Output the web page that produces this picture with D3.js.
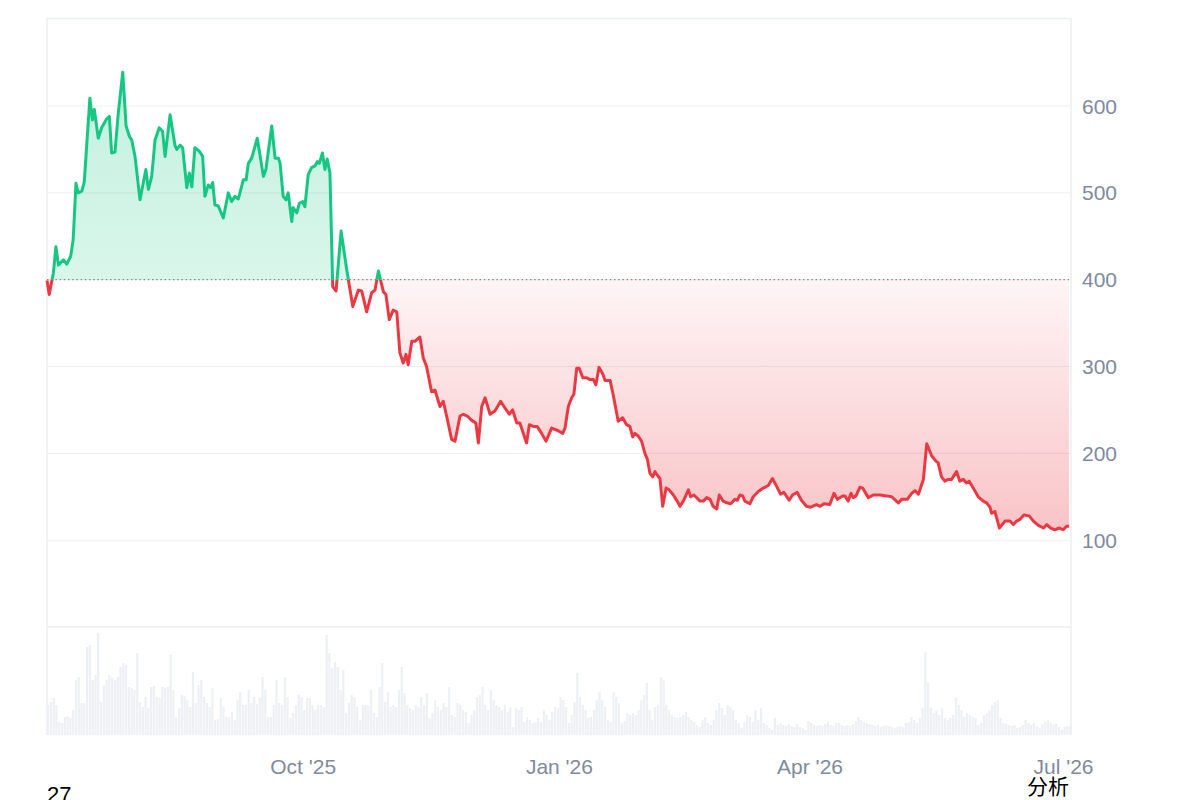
<!DOCTYPE html>
<html><head><meta charset="utf-8">
<script src="https://cdn.jsdelivr.net/npm/d3@7"></script>
<style>
body{margin:0;background:#fff;}
svg{display:block;font-family:"Liberation Sans",Arial,Helvetica,sans-serif;}
</style>
</head><body>
<svg id="chart" width="1200" height="800"></svg>
<script>
// ---------- data ----------
const startDateStr = "2025-07-01";
const domainDays = 367.7;
const baselinePrice = 400;

const dayOffsets = [0,0.8,2.3,3.2,4.1,5.9,7.1,8.5,9.4,10.4,
11.2,12.5,13.4,14.3,15.4,16.3,17.0,18.4,19.6,21.4,
22.4,23.2,24.4,25.6,27.2,28.4,29.6,30.4,31.6,33.4,
35.5,36.4,37.6,38.8,40.3,41.5,42.4,44.2,46.0,46.6,
47.8,48.7,50.2,51.1,52.0,53.1,54.7,55.9,56.7,57.9,
58.8,59.5,60.3,61.5,63.3,65.1,66.3,67.5,68.7,70.5,
71.5,72.3,73.5,75.5,77.7,78.6,80.7,81.9,83.1,83.7,
84.8,85.8,86.6,87.9,88.4,89.7,90.6,91.8,92.6,93.8,
95.0,96.2,97.1,97.8,98.9,99.8,100.6,101.6,102.6,103.8,
105.6,107.6,109.8,111.8,113.0,114.8,116.6,117.8,119.0,120.8,
121.7,122.9,124.3,125.6,126.7,127.9,128.9,129.7,131.0,132.1,
133.9,135.1,136.3,138.1,139.3,141.1,142.3,143.5,145.3,146.5,
148.3,149.5,150.9,152.5,154.0,154.9,156.1,157.3,159.1,160.9,
162.9,164.5,166.0,167.2,168.7,169.8,172.2,173.2,174.6,176.0,
177.6,179.2,181.2,183.6,185.2,186.0,187.2,188.4,189.2,190.2,
191.1,192.4,193.8,195.0,196.2,197.1,198.2,199.5,200.4,202.2,
203.4,205.1,206.7,208.1,209.3,210.3,211.1,212.3,213.5,214.7,
215.6,216.5,217.5,218.3,219.1,220.1,221.1,222.3,223.4,224.9,
226.3,227.3,228.5,230.3,231.1,232.3,234.5,235.7,236.9,238.1,
239.2,240.5,241.4,242.8,244.1,245.5,247.0,247.9,248.8,249.8,
250.6,252.4,253.6,255.4,257.2,259.0,260.5,262.0,263.4,264.6,
266.5,267.7,269.4,270.9,272.7,274.2,276.3,277.6,279.0,281.1,
282.6,283.8,285.7,286.5,287.7,288.7,289.5,290.5,291.9,292.9,
294.9,296.7,299.1,301.5,303.3,305.7,306.9,308.9,310.5,311.7,
312.9,314.7,315.9,317.7,319.2,320.0,321.2,322.4,323.6,324.8,
326.6,327.8,329.0,330.2,331.1,332.6,334.4,336.2,337.4,338.6,
339.2,340.4,342.0,344.0,345.8,347.0,348.2,349.4,350.8,352.7,
354.2,356.0,357.8,359.0,360.4,361.9,363.5,364.9,366.1,367.0];

const prices = [399,383,408,438,417,423,418,427,446,511,
500,502,513,557,609,584,596,563,575,585,
588,546,547,592,639,577,565,561,542,492,
527,504,519,561,575,571,542,590,554,550,
555,552,506,523,507,552,548,542,496,509,
506,512,486,485,471,500,490,496,493,515,
515,534,540,563,519,527,577,540,540,534,
496,492,500,467,483,477,488,490,484,521,
529,531,536,534,546,527,539,523,392,387,
456,412,369,388,387,363,385,388,410,386,
383,354,365,363,316,304,314,302,329,329,
334,310,300,271,273,254,260,243,216,214,
243,245,243,238,235,212,254,264,245,249,
260,252,245,250,235,235,212,233,231,231,
223,214,229,226,223,229,254,264,268,298,
298,287,287,285,285,279,299,292,284,284,
266,237,241,233,231,219,223,220,214,200,
193,177,173,179,175,171,139,160,158,152,
145,139,145,158,150,152,145,145,149,147,
139,136,152,145,143,142,147,146,152,151,
145,142,150,156,160,163,171,162,153,155,
146,152,155,146,139,138,141,139,142,141,
154,147,151,151,145,154,149,151,161,160,
149,152,152,151,150,143,147,147,154,157,
153,170,211,197,191,189,173,168,170,170,
179,168,170,166,168,160,150,145,143,138,
131,133,114,122,122,118,122,124,129,128,
122,117,114,118,114,112,114,112,116,116];

const volumes = [30,33,37,30,13,12,18,19,17,25,
55,58,32,32,88,90,55,60,102,33,
50,55,60,57,55,58,68,72,70,48,
47,45,82,33,28,38,27,48,49,38,
37,48,47,48,80,45,18,27,40,39,
35,28,63,32,50,55,38,32,28,47,
15,16,37,28,18,18,23,15,35,43,
30,30,45,32,38,31,37,58,45,18,
18,30,55,32,30,58,38,17,22,30,
40,38,25,37,37,30,25,30,30,28,
100,82,67,73,68,45,65,22,32,40,
38,28,15,30,30,30,45,22,18,48,
72,33,43,28,30,28,45,68,42,30,
27,25,30,28,38,30,42,17,22,35,
28,25,32,28,48,20,18,32,30,25,
23,12,20,25,38,40,48,30,25,45,
35,30,28,25,30,23,28,8,27,25,
28,13,18,15,12,13,17,13,25,20,
15,23,28,27,38,35,28,12,20,33,
62,38,30,25,17,18,25,35,43,35,
28,15,13,43,38,32,12,14,22,20,
22,20,25,35,40,52,25,15,28,30,
58,55,30,25,20,18,17,18,20,23,
18,15,13,10,8,15,18,12,10,15,
25,32,27,20,30,28,25,15,12,7,
13,20,18,13,25,15,27,12,10,7,
5,17,10,12,10,9,11,9,8,11,
8,7,5,14,12,10,9,10,9,11,
13,10,9,12,12,10,9,10,9,11,
14,18,15,13,12,11,10,9,10,8,
9,10,9,8,7,8,9,8,12,13,
18,15,12,17,27,83,52,27,22,25,
20,27,17,15,17,20,37,30,25,18,
22,20,18,17,10,12,20,22,25,30,
33,35,17,12,11,10,9,10,7,8,
10,15,12,10,12,9,7,11,13,14,
12,10,11,8,6,8,9,8];

const priceTicks = [100,200,300,400,500,600];
const xTickDates = ["2025-10-01","2026-01-01","2026-04-01","2026-07-01"];
const footLeft = "27";
const footRight = "分析";

// ---------- layout ----------
const L = 47, R = 1071, TOP = 18, PRICE_BOTTOM = 627, VOL_BOTTOM = 735;
const GREEN = "#16c784", RED = "#ea3943", GRID = "#eceef1", TXT = "#808a9d";

const parse = d3.timeParse("%Y-%m-%d");
const start = parse(startDateStr);
const toDate = d => new Date(start.getTime() + d * 864e5);
const end = toDate(domainDays);

const x = d3.scaleTime().domain([start, end]).range([L, R]);
const y = d3.scaleLinear().domain([0, 701.4]).range([PRICE_BOTTOM, TOP]);
const yv = d3.scaleLinear().domain([0, 105]).range([VOL_BOTTOM, VOL_BOTTOM - 105]);

const data = dayOffsets.map((d, i) => ({date: toDate(d), price: prices[i]}));
const volData = volumes.map((v, i) => ({date: d3.timeDay.offset(start, i), v}));

const svg = d3.select("#chart");
const defs = svg.append("defs");
const yb = y(baselinePrice);

// gradients
const gG = defs.append("linearGradient").attr("id", "gGreen")
  .attr("gradientUnits", "userSpaceOnUse").attr("x1", 0).attr("x2", 0)
  .attr("y1", y(d3.max(prices))).attr("y2", yb);
gG.append("stop").attr("offset", 0).attr("stop-color", GREEN).attr("stop-opacity", 0.26);
gG.append("stop").attr("offset", 1).attr("stop-color", GREEN).attr("stop-opacity", 0.16);
const gR = defs.append("linearGradient").attr("id", "gRed")
  .attr("gradientUnits", "userSpaceOnUse").attr("x1", 0).attr("x2", 0)
  .attr("y1", yb).attr("y2", y(d3.min(prices)));
gR.append("stop").attr("offset", 0).attr("stop-color", RED).attr("stop-opacity", 0.05);
gR.append("stop").attr("offset", 1).attr("stop-color", RED).attr("stop-opacity", 0.3);

defs.append("clipPath").attr("id", "clipAbove").append("rect")
  .attr("x", L - 5).attr("y", 0).attr("width", R - L + 10).attr("height", yb);
defs.append("clipPath").attr("id", "clipBelow").append("rect")
  .attr("x", L - 5).attr("y", yb).attr("width", R - L + 10).attr("height", PRICE_BOTTOM - yb);

// grid
const grid = svg.append("g");
grid.selectAll("line.h").data(priceTicks).join("line")
  .attr("x1", L).attr("x2", R).attr("y1", d => y(d)).attr("y2", d => y(d))
  .attr("stroke", GRID).attr("stroke-width", 1);
grid.append("line").attr("x1", L).attr("x2", R).attr("y1", TOP + 0.5).attr("y2", TOP + 0.5).attr("stroke", GRID).attr("stroke-width", 1.5);
grid.append("line").attr("x1", L).attr("x2", R).attr("y1", PRICE_BOTTOM).attr("y2", PRICE_BOTTOM).attr("stroke", GRID).attr("stroke-width", 1.5);
grid.append("line").attr("x1", L).attr("x2", L).attr("y1", TOP).attr("y2", VOL_BOTTOM).attr("stroke", GRID).attr("stroke-width", 1.5);
grid.append("line").attr("x1", R).attr("x2", R).attr("y1", TOP).attr("y2", VOL_BOTTOM).attr("stroke", GRID).attr("stroke-width", 1.5);

// volume bars
const bw = (x(d3.timeDay.offset(start, 1)) - x(start)) * 0.8;
svg.append("g").selectAll("rect").data(volData).join("rect")
  .attr("x", d => x(d.date)).attr("width", bw)
  .attr("y", d => yv(d.v)).attr("height", d => VOL_BOTTOM - yv(d.v))
  .attr("fill", "#edf0f4");

// areas
const area = d3.area().x(d => x(d.date)).y0(yb).y1(d => y(d.price));
svg.append("path").datum(data).attr("d", area).attr("fill", "url(#gGreen)").attr("clip-path", "url(#clipAbove)");
svg.append("path").datum(data).attr("d", area).attr("fill", "url(#gRed)").attr("clip-path", "url(#clipBelow)");

// baseline
svg.append("line").attr("x1", L).attr("x2", R).attr("y1", yb).attr("y2", yb)
  .attr("stroke", "#8a8a8a").attr("stroke-width", 1.2).attr("stroke-dasharray", "1.5,2.7");

// lines
const line = d3.line().x(d => x(d.date)).y(d => y(d.price));
svg.append("path").datum(data).attr("d", line).attr("fill", "none").attr("stroke", GREEN)
  .attr("stroke-width", 3).attr("stroke-linejoin", "round").attr("clip-path", "url(#clipAbove)");
svg.append("path").datum(data).attr("d", line).attr("fill", "none").attr("stroke", RED)
  .attr("stroke-width", 3).attr("stroke-linejoin", "round").attr("clip-path", "url(#clipBelow)");

// y labels
svg.append("g").selectAll("text").data(priceTicks).join("text")
  .attr("x", 1082).attr("y", d => y(d)).attr("dy", "0.36em")
  .attr("fill", TXT).attr("font-size", 21).text(d => d);

// x labels
const fmt = d3.timeFormat("%b '%y");
svg.append("g").selectAll("text").data(xTickDates).join("text")
  .attr("x", d => x(parse(d))).attr("y", 774).attr("text-anchor", "middle")
  .attr("fill", TXT).attr("font-size", 21).text(d => fmt(parse(d)));

// footer texts
svg.append("text").attr("x", 47).attr("y", 802).attr("fill", "#000").attr("font-size", 22).text(footLeft);
svg.append("text").attr("x", 1069).attr("y", 794).attr("text-anchor", "end").attr("fill", "#000")
  .attr("font-size", 21).attr("font-family", "'Noto Sans CJK SC', sans-serif").text(footRight);
</script>
</body></html>
